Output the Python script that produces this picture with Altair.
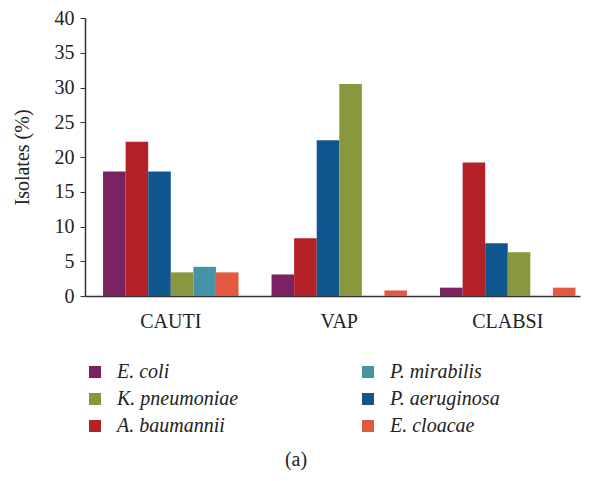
import altair as alt
import pandas as pd

infections = ["CAUTI", "VAP", "CLABSI"]
bar_order = ["E. coli", "A. baumannii", "P. aeruginosa", "K. pneumoniae", "P. mirabilis", "E. cloacae"]
legend_order = ["E. coli", "K. pneumoniae", "A. baumannii", "P. mirabilis", "P. aeruginosa", "E. cloacae"]
colors = {
    "E. coli": "#7a2262",
    "P. mirabilis": "#4493a9",
    "K. pneumoniae": "#8a973e",
    "P. aeruginosa": "#10568f",
    "A. baumannii": "#b42228",
    "E. cloacae": "#e35a40",
}
# values in bar order per infection
cauti = [17.9, 22.2, 17.9, 3.4, 4.2, 3.4]
vap = [3.1, 8.3, 22.4, 30.5, 0.0, 0.8]
clabsi = [1.2, 19.2, 7.6, 6.3, 0.0, 1.2]

rows = []
for inf, vals in zip(infections, [cauti, vap, clabsi]):
    for org, v in zip(bar_order, vals):
        rows.append({"Infection": inf, "Organism": org, "Value": v})
df = pd.DataFrame(rows)

FONT = "Liberation Serif"
FS = 20

chart = alt.Chart(df).mark_bar().encode(
    x=alt.X("Infection:N", sort=infections,
            scale=alt.Scale(paddingInner=0.196, paddingOuter=0.067, align=0.8),
            axis=alt.Axis(title=None, labelAngle=0, ticks=False, labelPadding=15,
                          labelFontSize=FS, labelFont=FONT, labelColor="#222",
                          domainColor="#333", domainWidth=1.5)),
    xOffset=alt.XOffset("Organism:N", sort=bar_order,
                        scale=alt.Scale(paddingInner=0, paddingOuter=0)),
    y=alt.Y("Value:Q", scale=alt.Scale(domain=[0, 40]),
            axis=alt.Axis(title="Isolates (%)", values=list(range(0, 41, 5)), grid=False,
                          tickSize=5, tickColor="#333", labelPadding=6,
                          labelFontSize=FS, labelFont=FONT, labelColor="#222",
                          titleFontSize=FS, titleFont=FONT, titleFontWeight="normal",
                          titleColor="#222", titlePadding=22,
                          domainColor="#333", domainWidth=1.5)),
    color=alt.Color("Organism:N",
                    scale=alt.Scale(domain=legend_order, range=[colors[o] for o in legend_order]),
                    legend=alt.Legend(title=None, orient="none", legendX=0, legendY=344,
                                      columns=2, columnPadding=119, rowPadding=7,
                                      symbolType="square", symbolSize=144,
                                      symbolStrokeWidth=0, labelOffset=12,
                                      labelFontSize=FS, labelFont=FONT,
                                      labelFontStyle="italic", labelColor="#222",
                                      padding=0)),
).properties(
    width=495,
    height=278,
    title=alt.TitleParams("(a)", orient="bottom", anchor="middle", frame="bounds",
                          fontSize=FS, font=FONT, fontWeight="normal", color="#222",
                          offset=14),
    padding={"left": 77, "top": 10, "right": 5, "bottom": 177},
    autosize=alt.AutoSizeParams(type="none"),
).configure_view(stroke=None)

chart.save("out.html", embed_options={"renderer": "svg", "actions": False})
